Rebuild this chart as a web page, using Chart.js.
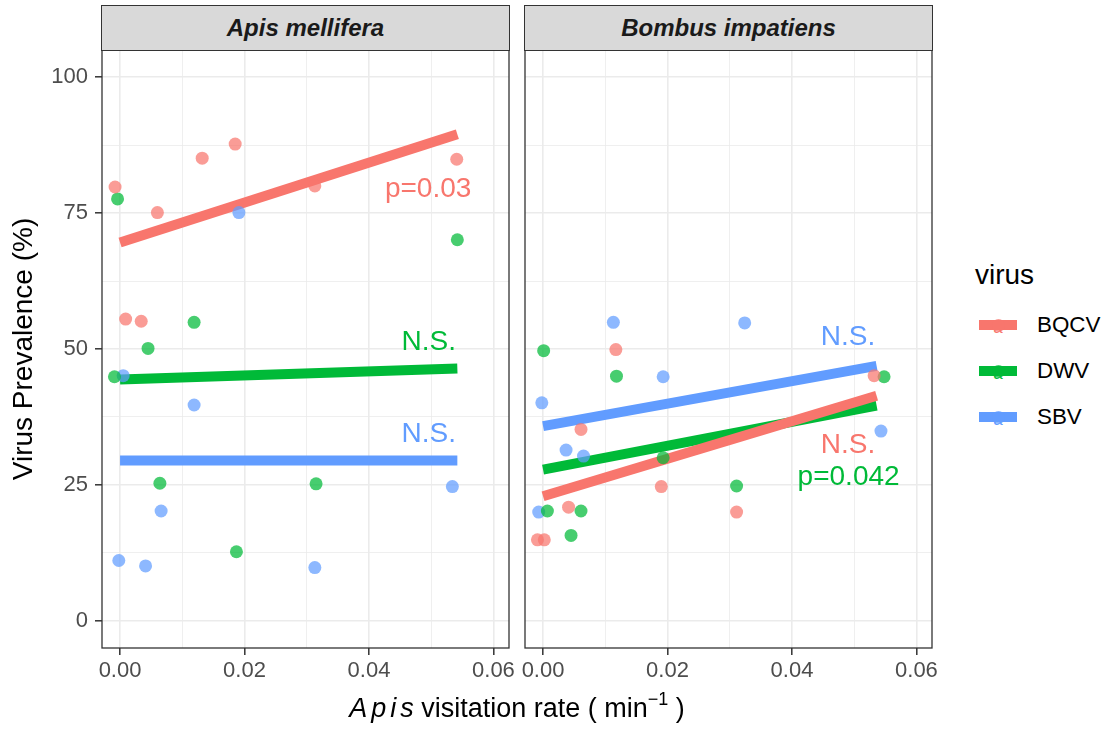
<!DOCTYPE html>
<html>
<head>
<meta charset="utf-8">
<script src="https://cdn.jsdelivr.net/npm/chart.js@4.4.1/dist/chart.umd.min.js"></script>
<style>
  body { margin: 0; background: #ffffff; font-family: 'Liberation Sans', Arial, sans-serif; }
  #wrap { position: relative; width: 1108px; height: 732px; overflow: hidden; background: #fff; }
  canvas { position: absolute; top: 0; }
  .strip { position: absolute; background: #D9D9D9; border: 1.3px solid #333333; box-sizing: border-box;
           display: flex; align-items: center; justify-content: center;
           font-weight: bold; font-style: italic; font-size: 24px; color: #1A1A1A; }
  .xtitle { position: absolute; left: 217px; width: 600px; top: 695px; height: 27px; line-height: 27px;
            text-align: center; font-size: 27px; color: #000; white-space: nowrap; }
  .xtitle i { letter-spacing: 4px; margin-right: -4px; }
  .xtitle sup { font-size: 18px; vertical-align: 0; position: relative; top: -12px; }
  .ytitle { position: absolute; left: -227px; top: 335px; width: 500px; height: 28px; line-height: 28px;
            text-align: center; font-size: 28px; color: #000; transform: rotate(-90deg); white-space: nowrap; }
  .legtitle { position: absolute; left: 975px; top: 261px; font-size: 28px; line-height: 28px; color: #000; }
  .key { position: absolute; left: 979px; width: 38px; height: 10px; }
  .keydot { position: absolute; width: 13px; height: 13px; border-radius: 50%; left: 12.5px; top: -1.5px; }
  .keya { position: absolute; left: 13px; top: -1px; width: 12px; text-align: center; font-size: 17px; line-height: 17px; }
  .leglab { position: absolute; left: 1037px; font-size: 22.4px; line-height: 24px; color: #000; }
</style>
</head>
<body>
<div id="wrap">
  <canvas id="cLeft" width="520" height="732" style="left:0px"></canvas>
  <canvas id="cRight" width="430" height="732" style="left:515px"></canvas>
  <div class="strip" id="stripLeft">Apis mellifera</div>
  <div class="strip" id="stripRight">Bombus impatiens</div>
  <div class="ytitle">Virus Prevalence (%)</div>
  <div class="xtitle"><i>Apis</i> visitation rate ( min<sup>−1</sup> )</div>
  <div id="legend"></div>
</div>
<script>
// ---------------- data ----------------
const viruses = ['BQCV', 'DWV', 'SBV'];
const panels = ['Apis mellifera', 'Bombus impatiens'];
const xTicks = [0, 0.01, 0.02, 0.03, 0.04, 0.05, 0.06];
const yTicks = [0, 12.5, 25, 37.5, 50, 62.5, 75, 87.5, 100];

// Apis mellifera panel points
const apisBQCVx = [-0.0008, 0.0009, 0.0034, 0.0060, 0.0132, 0.0185, 0.0313, 0.0541];
const apisBQCVy = [79.8, 55.5, 55.1, 75.1, 85.1, 87.7, 80.0, 84.9];
const apisDWVx  = [-0.0004, 0.0542, 0.0119, 0.0045, -0.0009, 0.0064, 0.0315, 0.0187];
const apisDWVy  = [77.6, 70.1, 54.9, 50.1, 44.9, 25.3, 25.2, 12.7];
const apisSBVx  = [0.0191, 0.0005, 0.0119, 0.0534, 0.0066, -0.0002, 0.0041, 0.0313];
const apisSBVy  = [75.1, 45.1, 39.7, 24.7, 20.2, 11.1, 10.1, 9.8];

// Bombus impatiens panel points
const bombBQCVx = [0.0117, 0.0532, 0.0061, 0.0190, 0.0041, 0.0311, -0.0009, 0.0002];
const bombBQCVy = [49.9, 45.1, 35.2, 24.7, 20.9, 20.0, 14.9, 14.9];
const bombDWVx  = [0.0001, 0.0118, 0.0548, 0.0193, 0.0311, 0.0007, 0.0061, 0.0045];
const bombDWVy  = [49.7, 45.0, 44.9, 30.0, 24.8, 20.2, 20.2, 15.7];
const bombSBVx  = [0.0113, 0.0324, 0.0193, -0.0002, 0.0037, 0.0065, 0.0543, -0.0007];
const bombSBVy  = [54.9, 54.8, 44.9, 40.1, 31.4, 30.3, 34.9, 20.0];

// fitted lines: [x start, x end], [y start, y end]
const apisLineX = [0, 0.0542];
const apisBQCVfit = [69.6, 89.5];
const apisDWVfit  = [44.4, 46.4];
const apisSBVfit  = [29.5, 29.5];
const bombLineX = [0, 0.0536];
const bombBQCVfit = [22.9, 41.4];
const bombDWVfit  = [27.8, 39.6];
const bombSBVfit  = [35.8, 46.9];

// significance labels: x, y (baseline), text
const apisNoteX = [0.0495, 0.0496, 0.0496];
const apisNoteY = [77.9, 49.9, 32.9];
const apisNoteT = ['p=0.03', 'N.S.', 'N.S.'];
const bombNoteX = [0.0490, 0.0491, 0.0490];
const bombNoteY = [30.9, 25.0, 50.8];
const bombNoteT = ['N.S.', 'p=0.042', 'N.S.'];

// ---------------- styling ----------------
const lineColors  = ['#F8766D', '#00BA38', '#619CFF'];
const pointColors = ['rgba(248,118,109,0.72)', 'rgba(0,186,56,0.72)', 'rgba(97,156,255,0.72)'];
const FONT = "'Liberation Sans', Arial, sans-serif";
const XMIN = -0.0029, XMAX = 0.0625, YMIN = -5, YMAX = 105;

function zip(xs, ys) { return xs.map((x, i) => ({ x: x, y: ys[i] })); }

function buildDatasets(ptsX, ptsY, lineX, fits) {
  const ds = [];
  for (let v = 0; v < 3; v++) {
    ds.push({
      label: viruses[v] + ' fit', data: zip(lineX, fits[v]), showLine: true,
      borderColor: lineColors[v], borderWidth: 10, pointRadius: 0, borderCapStyle: 'butt',
      fill: false, order: 10
    });
  }
  for (let v = 0; v < 3; v++) {
    ds.push({
      label: viruses[v], data: zip(ptsX[v], ptsY[v]), showLine: false,
      backgroundColor: pointColors[v], borderWidth: 0, pointRadius: 6.5, order: 1
    });
  }
  return ds;
}

const isMajorX = v => Math.round(v * 100) % 2 === 0;
const isMajorY = v => Math.abs(v % 25) < 1e-9;

const panelBorder = {
  id: 'panelBorder',
  afterDatasetsDraw(chart) {
    const a = chart.chartArea, ctx = chart.ctx;
    ctx.save();
    ctx.strokeStyle = '#333333'; ctx.lineWidth = 1.3;
    ctx.strokeRect(a.left, a.top, a.right - a.left, a.bottom - a.top);
    ctx.restore();
  }
};

const notes = {
  id: 'notes',
  afterDatasetsDraw(chart, args, opts) {
    const ctx = chart.ctx, xs = chart.scales.x, ys = chart.scales.y;
    ctx.save();
    ctx.font = '28px ' + FONT;
    ctx.textAlign = 'center';
    ctx.textBaseline = 'alphabetic';
    opts.xs.forEach((x, i) => {
      ctx.fillStyle = opts.colors[i];
      ctx.fillText(opts.texts[i], xs.getPixelForValue(x), ys.getPixelForValue(opts.ys[i]));
    });
    ctx.restore();
  }
};

function makeChart(canvasId, datasets, showY, padRight, yWidth, note) {
  return new Chart(document.getElementById(canvasId), {
    type: 'scatter',
    data: { datasets: datasets },
    plugins: [panelBorder, notes],
    options: {
      responsive: false, animation: false, devicePixelRatio: 1,
      layout: { padding: { top: 50, right: padRight, bottom: 0, left: 0 } },
      plugins: { legend: { display: false }, tooltip: { enabled: false }, notes: note },
      scales: {
        x: {
          type: 'linear', min: XMIN, max: XMAX,
          afterBuildTicks: s => { s.ticks = xTicks.map(v => ({ value: v })); },
          afterFit: s => { s.height = 84; },
          border: { display: false },
          grid: {
            color: '#EBEBEB',
            lineWidth: c => (c.tick && isMajorX(c.tick.value)) ? 1.6 : 0.8,
            tickColor: c => (c.tick && isMajorX(c.tick.value)) ? '#333333' : 'rgba(0,0,0,0)',
            tickLength: 7, tickWidth: 1.5
          },
          ticks: {
            autoSkip: false, maxRotation: 0, minRotation: 0, padding: 3,
            color: '#4D4D4D', font: { family: FONT, size: 22 },
            callback: v => isMajorX(v) ? v.toFixed(2) : ''
          }
        },
        y: {
          type: 'linear', min: YMIN, max: YMAX,
          afterBuildTicks: s => { s.ticks = yTicks.map(v => ({ value: v })); },
          afterFit: s => { s.width = yWidth; },
          border: { display: false },
          grid: {
            color: '#EBEBEB',
            lineWidth: c => (c.tick && isMajorY(c.tick.value)) ? 1.6 : 0.8,
            tickColor: c => (showY && c.tick && isMajorY(c.tick.value)) ? '#333333' : 'rgba(0,0,0,0)',
            drawTicks: showY, tickLength: showY ? 7 : 0, tickWidth: 1.5
          },
          ticks: {
            display: showY, padding: 7,
            color: '#4D4D4D', font: { family: FONT, size: 22 },
            callback: v => isMajorY(v) ? String(v) : ''
          }
        }
      }
    }
  });
}

const left = makeChart('cLeft',
  buildDatasets([apisBQCVx, apisDWVx, apisSBVx], [apisBQCVy, apisDWVy, apisSBVy], apisLineX,
                [apisBQCVfit, apisDWVfit, apisSBVfit]),
  true, 11, 102,
  { xs: apisNoteX, ys: apisNoteY, texts: apisNoteT, colors: [lineColors[0], lineColors[1], lineColors[2]] });

const right = makeChart('cRight',
  buildDatasets([bombBQCVx, bombDWVx, bombSBVx], [bombBQCVy, bombDWVy, bombSBVy], bombLineX,
                [bombBQCVfit, bombDWVfit, bombSBVfit]),
  false, 13, 10,
  { xs: bombNoteX, ys: bombNoteY, texts: bombNoteT, colors: [lineColors[0], lineColors[1], lineColors[2]] });

// strips aligned to the chart areas
function placeStrip(id, chart, offset) {
  const a = chart.chartArea, el = document.getElementById(id);
  el.style.left = (offset + a.left - 0.65) + 'px';
  el.style.width = (a.right - a.left + 1.3) + 'px';
  el.style.top = '5px';
  el.style.height = (a.top - 5 + 0.65) + 'px';
}
placeStrip('stripLeft', left, 0);
placeStrip('stripRight', right, 515);

// legend
const leg = document.getElementById('legend');
const t = document.createElement('div'); t.className = 'legtitle'; t.textContent = 'virus'; leg.appendChild(t);
const keyY = [320, 366, 412];
viruses.forEach((v, i) => {
  const k = document.createElement('div'); k.className = 'key';
  k.style.top = keyY[i] + 'px'; k.style.background = lineColors[i];
  const d = document.createElement('div'); d.className = 'keydot'; d.style.background = pointColors[i]; k.appendChild(d);
  const a = document.createElement('div'); a.className = 'keya'; a.style.color = lineColors[i]; a.textContent = 'a'; k.appendChild(a);
  leg.appendChild(k);
  const l = document.createElement('div'); l.className = 'leglab'; l.textContent = v;
  l.style.top = (keyY[i] + 5 - 12) + 'px'; leg.appendChild(l);
});
</script>
</body>
</html>
